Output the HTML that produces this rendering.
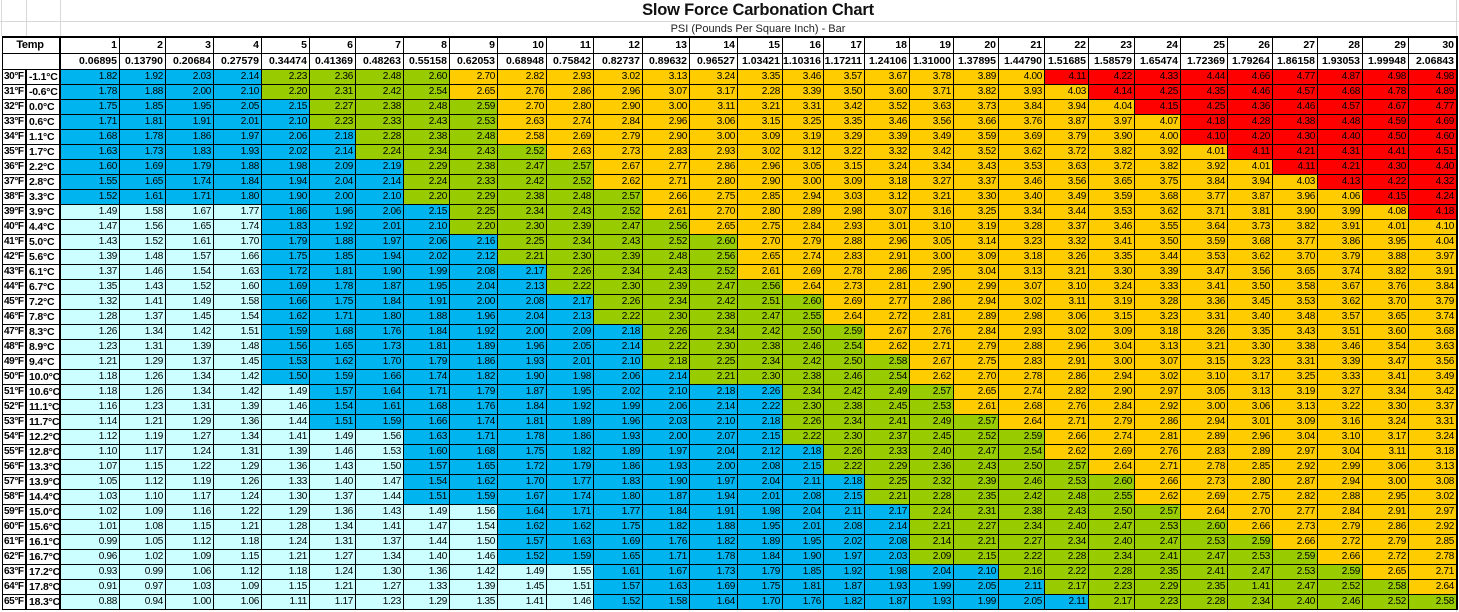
<!DOCTYPE html>
<html><head><meta charset="utf-8"><style>
body{margin:0;width:1459px;height:612px;background:#fff;position:relative;overflow:hidden;font-family:"Liberation Sans",Arial,sans-serif}
.h1{position:absolute;left:0;width:1516px;top:1px;text-align:center;font-weight:bold;font-size:16.5px;letter-spacing:-0.2px;color:#111}
.h2{position:absolute;left:0;width:1516px;top:23px;text-align:center;font-size:11px;color:#222}
.gl{position:absolute;background:#d8d8d8}
.g{position:absolute;left:2px;top:36px;display:grid;grid-template-columns:24px 34px 59px 46px 48px 48px 48px 46px 48px 46px 48px 49px 47px 49px 47px 48px 45px 41px 41px 45px 44px 45px 46px 44px 46px 46px 47px 45px 45px 45px 46px 48px;grid-template-rows:16px 16px repeat(36,15px);border-top:2px solid #000;border-left:1px solid #000;border-right:1px solid #000}
.g i{font-style:normal;box-sizing:border-box;border-right:1px solid #000;border-bottom:1px solid #000;text-align:right;padding-right:2px;font-size:10px;line-height:14px;letter-spacing:-0.3px;white-space:nowrap;overflow:hidden;color:#000}
.g i.hd{font-weight:bold;font-size:10.5px;background:#fff;line-height:15px;letter-spacing:0}
.g i.tp{grid-column:span 2;text-align:center;font-weight:bold;font-size:11px;border-right:2px solid #000;line-height:15px}
.g i.ep{grid-column:span 2;border-right:2px solid #000;border-bottom:1px solid #000;background:#fff}
.g i.f{text-align:left;padding:0 0 0 1px;font-weight:bold;background:#fff;font-size:10px;letter-spacing:-0.4px;border-right:2px solid #000}
.g i.c{text-align:left;padding:0 0 0 2px;font-weight:bold;background:#fff;font-size:10.5px;letter-spacing:-0.2px;border-right:2px solid #000}
.g i.a{background:#ccffff}.g i.b{background:#00b4f0}.g i.d{background:#99cc00}.g i.o{background:#ffcc00}.g i.e{background:#ff0000}
</style></head><body>
<div class="gl" style="left:0;top:21px;width:1459px;height:1px"></div>
<div class="gl" style="left:1px;top:0;width:1px;height:36px"></div>
<div class="gl" style="left:26px;top:0;width:1px;height:36px"></div>
<div class="gl" style="left:60px;top:0;width:1px;height:36px"></div>
<div class="gl" style="left:1456px;top:0;width:1px;height:612px"></div>
<div class="h1">Slow Force Carbonation Chart</div>
<div class="h2">PSI (Pounds Per Square Inch) - Bar</div>
<div class="g">
<i class="tp">Temp</i><i class="hd">1</i><i class="hd">2</i><i class="hd">3</i><i class="hd">4</i><i class="hd">5</i><i class="hd">6</i><i class="hd">7</i><i class="hd">8</i><i class="hd">9</i><i class="hd">10</i><i class="hd">11</i><i class="hd">12</i><i class="hd">13</i><i class="hd">14</i><i class="hd">15</i><i class="hd">16</i><i class="hd">17</i><i class="hd">18</i><i class="hd">19</i><i class="hd">20</i><i class="hd">21</i><i class="hd">22</i><i class="hd">23</i><i class="hd">24</i><i class="hd">25</i><i class="hd">26</i><i class="hd">27</i><i class="hd">28</i><i class="hd">29</i><i class="hd">30</i>
<i class="ep"></i><i class="hd">0.06895</i><i class="hd">0.13790</i><i class="hd">0.20684</i><i class="hd">0.27579</i><i class="hd">0.34474</i><i class="hd">0.41369</i><i class="hd">0.48263</i><i class="hd">0.55158</i><i class="hd">0.62053</i><i class="hd">0.68948</i><i class="hd">0.75842</i><i class="hd">0.82737</i><i class="hd">0.89632</i><i class="hd">0.96527</i><i class="hd">1.03421</i><i class="hd">1.10316</i><i class="hd">1.17211</i><i class="hd">1.24106</i><i class="hd">1.31000</i><i class="hd">1.37895</i><i class="hd">1.44790</i><i class="hd">1.51685</i><i class="hd">1.58579</i><i class="hd">1.65474</i><i class="hd">1.72369</i><i class="hd">1.79264</i><i class="hd">1.86158</i><i class="hd">1.93053</i><i class="hd">1.99948</i><i class="hd">2.06843</i>
<i class="f">30°F</i><i class="c">-1.1°C</i><i class="b">1.82</i><i class="b">1.92</i><i class="b">2.03</i><i class="b">2.14</i><i class="d">2.23</i><i class="d">2.36</i><i class="d">2.48</i><i class="d">2.60</i><i class="o">2.70</i><i class="o">2.82</i><i class="o">2.93</i><i class="o">3.02</i><i class="o">3.13</i><i class="o">3.24</i><i class="o">3.35</i><i class="o">3.46</i><i class="o">3.57</i><i class="o">3.67</i><i class="o">3.78</i><i class="o">3.89</i><i class="o">4.00</i><i class="e">4.11</i><i class="e">4.22</i><i class="e">4.33</i><i class="e">4.44</i><i class="e">4.66</i><i class="e">4.77</i><i class="e">4.87</i><i class="e">4.98</i><i class="e">4.98</i>
<i class="f">31°F</i><i class="c">-0.6°C</i><i class="b">1.78</i><i class="b">1.88</i><i class="b">2.00</i><i class="b">2.10</i><i class="d">2.20</i><i class="d">2.31</i><i class="d">2.42</i><i class="d">2.54</i><i class="o">2.65</i><i class="o">2.76</i><i class="o">2.86</i><i class="o">2.96</i><i class="o">3.07</i><i class="o">3.17</i><i class="o">2.28</i><i class="o">3.39</i><i class="o">3.50</i><i class="o">3.60</i><i class="o">3.71</i><i class="o">3.82</i><i class="o">3.93</i><i class="o">4.03</i><i class="e">4.14</i><i class="e">4.25</i><i class="e">4.35</i><i class="e">4.46</i><i class="e">4.57</i><i class="e">4.68</i><i class="e">4.78</i><i class="e">4.89</i>
<i class="f">32°F</i><i class="c">0.0°C</i><i class="b">1.75</i><i class="b">1.85</i><i class="b">1.95</i><i class="b">2.05</i><i class="b">2.15</i><i class="d">2.27</i><i class="d">2.38</i><i class="d">2.48</i><i class="d">2.59</i><i class="o">2.70</i><i class="o">2.80</i><i class="o">2.90</i><i class="o">3.00</i><i class="o">3.11</i><i class="o">3.21</i><i class="o">3.31</i><i class="o">3.42</i><i class="o">3.52</i><i class="o">3.63</i><i class="o">3.73</i><i class="o">3.84</i><i class="o">3.94</i><i class="o">4.04</i><i class="e">4.15</i><i class="e">4.25</i><i class="e">4.36</i><i class="e">4.46</i><i class="e">4.57</i><i class="e">4.67</i><i class="e">4.77</i>
<i class="f">33°F</i><i class="c">0.6°C</i><i class="b">1.71</i><i class="b">1.81</i><i class="b">1.91</i><i class="b">2.01</i><i class="b">2.10</i><i class="d">2.23</i><i class="d">2.33</i><i class="d">2.43</i><i class="d">2.53</i><i class="o">2.63</i><i class="o">2.74</i><i class="o">2.84</i><i class="o">2.96</i><i class="o">3.06</i><i class="o">3.15</i><i class="o">3.25</i><i class="o">3.35</i><i class="o">3.46</i><i class="o">3.56</i><i class="o">3.66</i><i class="o">3.76</i><i class="o">3.87</i><i class="o">3.97</i><i class="o">4.07</i><i class="e">4.18</i><i class="e">4.28</i><i class="e">4.38</i><i class="e">4.48</i><i class="e">4.59</i><i class="e">4.69</i>
<i class="f">34°F</i><i class="c">1.1°C</i><i class="b">1.68</i><i class="b">1.78</i><i class="b">1.86</i><i class="b">1.97</i><i class="b">2.06</i><i class="b">2.18</i><i class="d">2.28</i><i class="d">2.38</i><i class="d">2.48</i><i class="o">2.58</i><i class="o">2.69</i><i class="o">2.79</i><i class="o">2.90</i><i class="o">3.00</i><i class="o">3.09</i><i class="o">3.19</i><i class="o">3.29</i><i class="o">3.39</i><i class="o">3.49</i><i class="o">3.59</i><i class="o">3.69</i><i class="o">3.79</i><i class="o">3.90</i><i class="o">4.00</i><i class="e">4.10</i><i class="e">4.20</i><i class="e">4.30</i><i class="e">4.40</i><i class="e">4.50</i><i class="e">4.60</i>
<i class="f">35°F</i><i class="c">1.7°C</i><i class="b">1.63</i><i class="b">1.73</i><i class="b">1.83</i><i class="b">1.93</i><i class="b">2.02</i><i class="b">2.14</i><i class="d">2.24</i><i class="d">2.34</i><i class="d">2.43</i><i class="d">2.52</i><i class="o">2.63</i><i class="o">2.73</i><i class="o">2.83</i><i class="o">2.93</i><i class="o">3.02</i><i class="o">3.12</i><i class="o">3.22</i><i class="o">3.32</i><i class="o">3.42</i><i class="o">3.52</i><i class="o">3.62</i><i class="o">3.72</i><i class="o">3.82</i><i class="o">3.92</i><i class="o">4.01</i><i class="e">4.11</i><i class="e">4.21</i><i class="e">4.31</i><i class="e">4.41</i><i class="e">4.51</i>
<i class="f">36°F</i><i class="c">2.2°C</i><i class="b">1.60</i><i class="b">1.69</i><i class="b">1.79</i><i class="b">1.88</i><i class="b">1.98</i><i class="b">2.09</i><i class="b">2.19</i><i class="d">2.29</i><i class="d">2.38</i><i class="d">2.47</i><i class="d">2.57</i><i class="o">2.67</i><i class="o">2.77</i><i class="o">2.86</i><i class="o">2.96</i><i class="o">3.05</i><i class="o">3.15</i><i class="o">3.24</i><i class="o">3.34</i><i class="o">3.43</i><i class="o">3.53</i><i class="o">3.63</i><i class="o">3.72</i><i class="o">3.82</i><i class="o">3.92</i><i class="o">4.01</i><i class="e">4.11</i><i class="e">4.21</i><i class="e">4.30</i><i class="e">4.40</i>
<i class="f">37°F</i><i class="c">2.8°C</i><i class="b">1.55</i><i class="b">1.65</i><i class="b">1.74</i><i class="b">1.84</i><i class="b">1.94</i><i class="b">2.04</i><i class="b">2.14</i><i class="d">2.24</i><i class="d">2.33</i><i class="d">2.42</i><i class="d">2.52</i><i class="o">2.62</i><i class="o">2.71</i><i class="o">2.80</i><i class="o">2.90</i><i class="o">3.00</i><i class="o">3.09</i><i class="o">3.18</i><i class="o">3.27</i><i class="o">3.37</i><i class="o">3.46</i><i class="o">3.56</i><i class="o">3.65</i><i class="o">3.75</i><i class="o">3.84</i><i class="o">3.94</i><i class="o">4.03</i><i class="e">4.13</i><i class="e">4.22</i><i class="e">4.32</i>
<i class="f">38°F</i><i class="c">3.3°C</i><i class="b">1.52</i><i class="b">1.61</i><i class="b">1.71</i><i class="b">1.80</i><i class="b">1.90</i><i class="b">2.00</i><i class="b">2.10</i><i class="d">2.20</i><i class="d">2.29</i><i class="d">2.38</i><i class="d">2.48</i><i class="d">2.57</i><i class="o">2.66</i><i class="o">2.75</i><i class="o">2.85</i><i class="o">2.94</i><i class="o">3.03</i><i class="o">3.12</i><i class="o">3.21</i><i class="o">3.30</i><i class="o">3.40</i><i class="o">3.49</i><i class="o">3.59</i><i class="o">3.68</i><i class="o">3.77</i><i class="o">3.87</i><i class="o">3.96</i><i class="o">4.06</i><i class="e">4.15</i><i class="e">4.24</i>
<i class="f">39°F</i><i class="c">3.9°C</i><i class="a">1.49</i><i class="a">1.58</i><i class="a">1.67</i><i class="a">1.77</i><i class="b">1.86</i><i class="b">1.96</i><i class="b">2.06</i><i class="b">2.15</i><i class="d">2.25</i><i class="d">2.34</i><i class="d">2.43</i><i class="d">2.52</i><i class="o">2.61</i><i class="o">2.70</i><i class="o">2.80</i><i class="o">2.89</i><i class="o">2.98</i><i class="o">3.07</i><i class="o">3.16</i><i class="o">3.25</i><i class="o">3.34</i><i class="o">3.44</i><i class="o">3.53</i><i class="o">3.62</i><i class="o">3.71</i><i class="o">3.81</i><i class="o">3.90</i><i class="o">3.99</i><i class="o">4.08</i><i class="e">4.18</i>
<i class="f">40°F</i><i class="c">4.4°C</i><i class="a">1.47</i><i class="a">1.56</i><i class="a">1.65</i><i class="a">1.74</i><i class="b">1.83</i><i class="b">1.92</i><i class="b">2.01</i><i class="b">2.10</i><i class="d">2.20</i><i class="d">2.30</i><i class="d">2.39</i><i class="d">2.47</i><i class="d">2.56</i><i class="o">2.65</i><i class="o">2.75</i><i class="o">2.84</i><i class="o">2.93</i><i class="o">3.01</i><i class="o">3.10</i><i class="o">3.19</i><i class="o">3.28</i><i class="o">3.37</i><i class="o">3.46</i><i class="o">3.55</i><i class="o">3.64</i><i class="o">3.73</i><i class="o">3.82</i><i class="o">3.91</i><i class="o">4.01</i><i class="o">4.10</i>
<i class="f">41°F</i><i class="c">5.0°C</i><i class="a">1.43</i><i class="a">1.52</i><i class="a">1.61</i><i class="a">1.70</i><i class="b">1.79</i><i class="b">1.88</i><i class="b">1.97</i><i class="b">2.06</i><i class="b">2.16</i><i class="d">2.25</i><i class="d">2.34</i><i class="d">2.43</i><i class="d">2.52</i><i class="d">2.60</i><i class="o">2.70</i><i class="o">2.79</i><i class="o">2.88</i><i class="o">2.96</i><i class="o">3.05</i><i class="o">3.14</i><i class="o">3.23</i><i class="o">3.32</i><i class="o">3.41</i><i class="o">3.50</i><i class="o">3.59</i><i class="o">3.68</i><i class="o">3.77</i><i class="o">3.86</i><i class="o">3.95</i><i class="o">4.04</i>
<i class="f">42°F</i><i class="c">5.6°C</i><i class="a">1.39</i><i class="a">1.48</i><i class="a">1.57</i><i class="a">1.66</i><i class="b">1.75</i><i class="b">1.85</i><i class="b">1.94</i><i class="b">2.02</i><i class="b">2.12</i><i class="d">2.21</i><i class="d">2.30</i><i class="d">2.39</i><i class="d">2.48</i><i class="d">2.56</i><i class="o">2.65</i><i class="o">2.74</i><i class="o">2.83</i><i class="o">2.91</i><i class="o">3.00</i><i class="o">3.09</i><i class="o">3.18</i><i class="o">3.26</i><i class="o">3.35</i><i class="o">3.44</i><i class="o">3.53</i><i class="o">3.62</i><i class="o">3.70</i><i class="o">3.79</i><i class="o">3.88</i><i class="o">3.97</i>
<i class="f">43°F</i><i class="c">6.1°C</i><i class="a">1.37</i><i class="a">1.46</i><i class="a">1.54</i><i class="a">1.63</i><i class="b">1.72</i><i class="b">1.81</i><i class="b">1.90</i><i class="b">1.99</i><i class="b">2.08</i><i class="b">2.17</i><i class="d">2.26</i><i class="d">2.34</i><i class="d">2.43</i><i class="d">2.52</i><i class="o">2.61</i><i class="o">2.69</i><i class="o">2.78</i><i class="o">2.86</i><i class="o">2.95</i><i class="o">3.04</i><i class="o">3.13</i><i class="o">3.21</i><i class="o">3.30</i><i class="o">3.39</i><i class="o">3.47</i><i class="o">3.56</i><i class="o">3.65</i><i class="o">3.74</i><i class="o">3.82</i><i class="o">3.91</i>
<i class="f">44°F</i><i class="c">6.7°C</i><i class="a">1.35</i><i class="a">1.43</i><i class="a">1.52</i><i class="a">1.60</i><i class="b">1.69</i><i class="b">1.78</i><i class="b">1.87</i><i class="b">1.95</i><i class="b">2.04</i><i class="b">2.13</i><i class="d">2.22</i><i class="d">2.30</i><i class="d">2.39</i><i class="d">2.47</i><i class="d">2.56</i><i class="o">2.64</i><i class="o">2.73</i><i class="o">2.81</i><i class="o">2.90</i><i class="o">2.99</i><i class="o">3.07</i><i class="o">3.10</i><i class="o">3.24</i><i class="o">3.33</i><i class="o">3.41</i><i class="o">3.50</i><i class="o">3.58</i><i class="o">3.67</i><i class="o">3.76</i><i class="o">3.84</i>
<i class="f">45°F</i><i class="c">7.2°C</i><i class="a">1.32</i><i class="a">1.41</i><i class="a">1.49</i><i class="a">1.58</i><i class="b">1.66</i><i class="b">1.75</i><i class="b">1.84</i><i class="b">1.91</i><i class="b">2.00</i><i class="b">2.08</i><i class="b">2.17</i><i class="d">2.26</i><i class="d">2.34</i><i class="d">2.42</i><i class="d">2.51</i><i class="d">2.60</i><i class="o">2.69</i><i class="o">2.77</i><i class="o">2.86</i><i class="o">2.94</i><i class="o">3.02</i><i class="o">3.11</i><i class="o">3.19</i><i class="o">3.28</i><i class="o">3.36</i><i class="o">3.45</i><i class="o">3.53</i><i class="o">3.62</i><i class="o">3.70</i><i class="o">3.79</i>
<i class="f">46°F</i><i class="c">7.8°C</i><i class="a">1.28</i><i class="a">1.37</i><i class="a">1.45</i><i class="a">1.54</i><i class="b">1.62</i><i class="b">1.71</i><i class="b">1.80</i><i class="b">1.88</i><i class="b">1.96</i><i class="b">2.04</i><i class="b">2.13</i><i class="d">2.22</i><i class="d">2.30</i><i class="d">2.38</i><i class="d">2.47</i><i class="d">2.55</i><i class="o">2.64</i><i class="o">2.72</i><i class="o">2.81</i><i class="o">2.89</i><i class="o">2.98</i><i class="o">3.06</i><i class="o">3.15</i><i class="o">3.23</i><i class="o">3.31</i><i class="o">3.40</i><i class="o">3.48</i><i class="o">3.57</i><i class="o">3.65</i><i class="o">3.74</i>
<i class="f">47°F</i><i class="c">8.3°C</i><i class="a">1.26</i><i class="a">1.34</i><i class="a">1.42</i><i class="a">1.51</i><i class="b">1.59</i><i class="b">1.68</i><i class="b">1.76</i><i class="b">1.84</i><i class="b">1.92</i><i class="b">2.00</i><i class="b">2.09</i><i class="b">2.18</i><i class="d">2.26</i><i class="d">2.34</i><i class="d">2.42</i><i class="d">2.50</i><i class="d">2.59</i><i class="o">2.67</i><i class="o">2.76</i><i class="o">2.84</i><i class="o">2.93</i><i class="o">3.02</i><i class="o">3.09</i><i class="o">3.18</i><i class="o">3.26</i><i class="o">3.35</i><i class="o">3.43</i><i class="o">3.51</i><i class="o">3.60</i><i class="o">3.68</i>
<i class="f">48°F</i><i class="c">8.9°C</i><i class="a">1.23</i><i class="a">1.31</i><i class="a">1.39</i><i class="a">1.48</i><i class="b">1.56</i><i class="b">1.65</i><i class="b">1.73</i><i class="b">1.81</i><i class="b">1.89</i><i class="b">1.96</i><i class="b">2.05</i><i class="b">2.14</i><i class="d">2.22</i><i class="d">2.30</i><i class="d">2.38</i><i class="d">2.46</i><i class="d">2.54</i><i class="o">2.62</i><i class="o">2.71</i><i class="o">2.79</i><i class="o">2.88</i><i class="o">2.96</i><i class="o">3.04</i><i class="o">3.13</i><i class="o">3.21</i><i class="o">3.30</i><i class="o">3.38</i><i class="o">3.46</i><i class="o">3.54</i><i class="o">3.63</i>
<i class="f">49°F</i><i class="c">9.4°C</i><i class="a">1.21</i><i class="a">1.29</i><i class="a">1.37</i><i class="a">1.45</i><i class="b">1.53</i><i class="b">1.62</i><i class="b">1.70</i><i class="b">1.79</i><i class="b">1.86</i><i class="b">1.93</i><i class="b">2.01</i><i class="b">2.10</i><i class="d">2.18</i><i class="d">2.25</i><i class="d">2.34</i><i class="d">2.42</i><i class="d">2.50</i><i class="d">2.58</i><i class="o">2.67</i><i class="o">2.75</i><i class="o">2.83</i><i class="o">2.91</i><i class="o">3.00</i><i class="o">3.07</i><i class="o">3.15</i><i class="o">3.23</i><i class="o">3.31</i><i class="o">3.39</i><i class="o">3.47</i><i class="o">3.56</i>
<i class="f">50°F</i><i class="c">10.0°C</i><i class="a">1.18</i><i class="a">1.26</i><i class="a">1.34</i><i class="a">1.42</i><i class="b">1.50</i><i class="b">1.59</i><i class="b">1.66</i><i class="b">1.74</i><i class="b">1.82</i><i class="b">1.90</i><i class="b">1.98</i><i class="b">2.06</i><i class="b">2.14</i><i class="d">2.21</i><i class="d">2.30</i><i class="d">2.38</i><i class="d">2.46</i><i class="d">2.54</i><i class="o">2.62</i><i class="o">2.70</i><i class="o">2.78</i><i class="o">2.86</i><i class="o">2.94</i><i class="o">3.02</i><i class="o">3.10</i><i class="o">3.17</i><i class="o">3.25</i><i class="o">3.33</i><i class="o">3.41</i><i class="o">3.49</i>
<i class="f">51°F</i><i class="c">10.6°C</i><i class="a">1.18</i><i class="a">1.26</i><i class="a">1.34</i><i class="a">1.42</i><i class="a">1.49</i><i class="b">1.57</i><i class="b">1.64</i><i class="b">1.71</i><i class="b">1.79</i><i class="b">1.87</i><i class="b">1.95</i><i class="b">2.02</i><i class="b">2.10</i><i class="b">2.18</i><i class="b">2.26</i><i class="d">2.34</i><i class="d">2.42</i><i class="d">2.49</i><i class="d">2.57</i><i class="o">2.65</i><i class="o">2.74</i><i class="o">2.82</i><i class="o">2.90</i><i class="o">2.97</i><i class="o">3.05</i><i class="o">3.13</i><i class="o">3.19</i><i class="o">3.27</i><i class="o">3.34</i><i class="o">3.42</i>
<i class="f">52°F</i><i class="c">11.1°C</i><i class="a">1.16</i><i class="a">1.23</i><i class="a">1.31</i><i class="a">1.39</i><i class="a">1.46</i><i class="b">1.54</i><i class="b">1.61</i><i class="b">1.68</i><i class="b">1.76</i><i class="b">1.84</i><i class="b">1.92</i><i class="b">1.99</i><i class="b">2.06</i><i class="b">2.14</i><i class="b">2.22</i><i class="d">2.30</i><i class="d">2.38</i><i class="d">2.45</i><i class="d">2.53</i><i class="o">2.61</i><i class="o">2.68</i><i class="o">2.76</i><i class="o">2.84</i><i class="o">2.92</i><i class="o">3.00</i><i class="o">3.06</i><i class="o">3.13</i><i class="o">3.22</i><i class="o">3.30</i><i class="o">3.37</i>
<i class="f">53°F</i><i class="c">11.7°C</i><i class="a">1.14</i><i class="a">1.21</i><i class="a">1.29</i><i class="a">1.36</i><i class="a">1.44</i><i class="b">1.51</i><i class="b">1.59</i><i class="b">1.66</i><i class="b">1.74</i><i class="b">1.81</i><i class="b">1.89</i><i class="b">1.96</i><i class="b">2.03</i><i class="b">2.10</i><i class="b">2.18</i><i class="d">2.26</i><i class="d">2.34</i><i class="d">2.41</i><i class="d">2.49</i><i class="d">2.57</i><i class="o">2.64</i><i class="o">2.71</i><i class="o">2.79</i><i class="o">2.86</i><i class="o">2.94</i><i class="o">3.01</i><i class="o">3.09</i><i class="o">3.16</i><i class="o">3.24</i><i class="o">3.31</i>
<i class="f">54°F</i><i class="c">12.2°C</i><i class="a">1.12</i><i class="a">1.19</i><i class="a">1.27</i><i class="a">1.34</i><i class="a">1.41</i><i class="a">1.49</i><i class="a">1.56</i><i class="b">1.63</i><i class="b">1.71</i><i class="b">1.78</i><i class="b">1.86</i><i class="b">1.93</i><i class="b">2.00</i><i class="b">2.07</i><i class="b">2.15</i><i class="d">2.22</i><i class="d">2.30</i><i class="d">2.37</i><i class="d">2.45</i><i class="d">2.52</i><i class="d">2.59</i><i class="o">2.66</i><i class="o">2.74</i><i class="o">2.81</i><i class="o">2.89</i><i class="o">2.96</i><i class="o">3.04</i><i class="o">3.10</i><i class="o">3.17</i><i class="o">3.24</i>
<i class="f">55°F</i><i class="c">12.8°C</i><i class="a">1.10</i><i class="a">1.17</i><i class="a">1.24</i><i class="a">1.31</i><i class="a">1.39</i><i class="a">1.46</i><i class="a">1.53</i><i class="b">1.60</i><i class="b">1.68</i><i class="b">1.75</i><i class="b">1.82</i><i class="b">1.89</i><i class="b">1.97</i><i class="b">2.04</i><i class="b">2.12</i><i class="b">2.18</i><i class="d">2.26</i><i class="d">2.33</i><i class="d">2.40</i><i class="d">2.47</i><i class="d">2.54</i><i class="o">2.62</i><i class="o">2.69</i><i class="o">2.76</i><i class="o">2.83</i><i class="o">2.89</i><i class="o">2.97</i><i class="o">3.04</i><i class="o">3.11</i><i class="o">3.18</i>
<i class="f">56°F</i><i class="c">13.3°C</i><i class="a">1.07</i><i class="a">1.15</i><i class="a">1.22</i><i class="a">1.29</i><i class="a">1.36</i><i class="a">1.43</i><i class="a">1.50</i><i class="b">1.57</i><i class="b">1.65</i><i class="b">1.72</i><i class="b">1.79</i><i class="b">1.86</i><i class="b">1.93</i><i class="b">2.00</i><i class="b">2.08</i><i class="b">2.15</i><i class="d">2.22</i><i class="d">2.29</i><i class="d">2.36</i><i class="d">2.43</i><i class="d">2.50</i><i class="d">2.57</i><i class="o">2.64</i><i class="o">2.71</i><i class="o">2.78</i><i class="o">2.85</i><i class="o">2.92</i><i class="o">2.99</i><i class="o">3.06</i><i class="o">3.13</i>
<i class="f">57°F</i><i class="c">13.9°C</i><i class="a">1.05</i><i class="a">1.12</i><i class="a">1.19</i><i class="a">1.26</i><i class="a">1.33</i><i class="a">1.40</i><i class="a">1.47</i><i class="b">1.54</i><i class="b">1.62</i><i class="b">1.70</i><i class="b">1.77</i><i class="b">1.83</i><i class="b">1.90</i><i class="b">1.97</i><i class="b">2.04</i><i class="b">2.11</i><i class="b">2.18</i><i class="d">2.25</i><i class="d">2.32</i><i class="d">2.39</i><i class="d">2.46</i><i class="d">2.53</i><i class="d">2.60</i><i class="o">2.66</i><i class="o">2.73</i><i class="o">2.80</i><i class="o">2.87</i><i class="o">2.94</i><i class="o">3.00</i><i class="o">3.08</i>
<i class="f">58°F</i><i class="c">14.4°C</i><i class="a">1.03</i><i class="a">1.10</i><i class="a">1.17</i><i class="a">1.24</i><i class="a">1.30</i><i class="a">1.37</i><i class="a">1.44</i><i class="b">1.51</i><i class="b">1.59</i><i class="b">1.67</i><i class="b">1.74</i><i class="b">1.80</i><i class="b">1.87</i><i class="b">1.94</i><i class="b">2.01</i><i class="b">2.08</i><i class="b">2.15</i><i class="d">2.21</i><i class="d">2.28</i><i class="d">2.35</i><i class="d">2.42</i><i class="d">2.48</i><i class="d">2.55</i><i class="o">2.62</i><i class="o">2.69</i><i class="o">2.75</i><i class="o">2.82</i><i class="o">2.88</i><i class="o">2.95</i><i class="o">3.02</i>
<i class="f">59°F</i><i class="c">15.0°C</i><i class="a">1.02</i><i class="a">1.09</i><i class="a">1.16</i><i class="a">1.22</i><i class="a">1.29</i><i class="a">1.36</i><i class="a">1.43</i><i class="a">1.49</i><i class="a">1.56</i><i class="b">1.64</i><i class="b">1.71</i><i class="b">1.77</i><i class="b">1.84</i><i class="b">1.91</i><i class="b">1.98</i><i class="b">2.04</i><i class="b">2.11</i><i class="b">2.17</i><i class="d">2.24</i><i class="d">2.31</i><i class="d">2.38</i><i class="d">2.43</i><i class="d">2.50</i><i class="d">2.57</i><i class="o">2.64</i><i class="o">2.70</i><i class="o">2.77</i><i class="o">2.84</i><i class="o">2.91</i><i class="o">2.97</i>
<i class="f">60°F</i><i class="c">15.6°C</i><i class="a">1.01</i><i class="a">1.08</i><i class="a">1.15</i><i class="a">1.21</i><i class="a">1.28</i><i class="a">1.34</i><i class="a">1.41</i><i class="a">1.47</i><i class="a">1.54</i><i class="b">1.62</i><i class="b">1.62</i><i class="b">1.75</i><i class="b">1.82</i><i class="b">1.88</i><i class="b">1.95</i><i class="b">2.01</i><i class="b">2.08</i><i class="b">2.14</i><i class="d">2.21</i><i class="d">2.27</i><i class="d">2.34</i><i class="d">2.40</i><i class="d">2.47</i><i class="d">2.53</i><i class="d">2.60</i><i class="o">2.66</i><i class="o">2.73</i><i class="o">2.79</i><i class="o">2.86</i><i class="o">2.92</i>
<i class="f">61°F</i><i class="c">16.1°C</i><i class="a">0.99</i><i class="a">1.05</i><i class="a">1.12</i><i class="a">1.18</i><i class="a">1.24</i><i class="a">1.31</i><i class="a">1.37</i><i class="a">1.44</i><i class="a">1.50</i><i class="b">1.57</i><i class="b">1.63</i><i class="b">1.69</i><i class="b">1.76</i><i class="b">1.82</i><i class="b">1.89</i><i class="b">1.95</i><i class="b">2.02</i><i class="b">2.08</i><i class="d">2.14</i><i class="d">2.21</i><i class="d">2.27</i><i class="d">2.34</i><i class="d">2.40</i><i class="d">2.47</i><i class="d">2.53</i><i class="d">2.59</i><i class="o">2.66</i><i class="o">2.72</i><i class="o">2.79</i><i class="o">2.85</i>
<i class="f">62°F</i><i class="c">16.7°C</i><i class="a">0.96</i><i class="a">1.02</i><i class="a">1.09</i><i class="a">1.15</i><i class="a">1.21</i><i class="a">1.27</i><i class="a">1.34</i><i class="a">1.40</i><i class="a">1.46</i><i class="b">1.52</i><i class="b">1.59</i><i class="b">1.65</i><i class="b">1.71</i><i class="b">1.78</i><i class="b">1.84</i><i class="b">1.90</i><i class="b">1.97</i><i class="b">2.03</i><i class="d">2.09</i><i class="d">2.15</i><i class="d">2.22</i><i class="d">2.28</i><i class="d">2.34</i><i class="d">2.41</i><i class="d">2.47</i><i class="d">2.53</i><i class="d">2.59</i><i class="o">2.66</i><i class="o">2.72</i><i class="o">2.78</i>
<i class="f">63°F</i><i class="c">17.2°C</i><i class="a">0.93</i><i class="a">0.99</i><i class="a">1.06</i><i class="a">1.12</i><i class="a">1.18</i><i class="a">1.24</i><i class="a">1.30</i><i class="a">1.36</i><i class="a">1.42</i><i class="a">1.49</i><i class="a">1.55</i><i class="b">1.61</i><i class="b">1.67</i><i class="b">1.73</i><i class="b">1.79</i><i class="b">1.85</i><i class="b">1.92</i><i class="b">1.98</i><i class="b">2.04</i><i class="b">2.10</i><i class="d">2.16</i><i class="d">2.22</i><i class="d">2.28</i><i class="d">2.35</i><i class="d">2.41</i><i class="d">2.47</i><i class="d">2.53</i><i class="d">2.59</i><i class="o">2.65</i><i class="o">2.71</i>
<i class="f">64°F</i><i class="c">17.8°C</i><i class="a">0.91</i><i class="a">0.97</i><i class="a">1.03</i><i class="a">1.09</i><i class="a">1.15</i><i class="a">1.21</i><i class="a">1.27</i><i class="a">1.33</i><i class="a">1.39</i><i class="a">1.45</i><i class="a">1.51</i><i class="b">1.57</i><i class="b">1.63</i><i class="b">1.69</i><i class="b">1.75</i><i class="b">1.81</i><i class="b">1.87</i><i class="b">1.93</i><i class="b">1.99</i><i class="b">2.05</i><i class="b">2.11</i><i class="d">2.17</i><i class="d">2.23</i><i class="d">2.29</i><i class="d">2.35</i><i class="d">1.41</i><i class="d">2.47</i><i class="d">2.52</i><i class="d">2.58</i><i class="o">2.64</i>
<i class="f">65°F</i><i class="c">18.3°C</i><i class="a">0.88</i><i class="a">0.94</i><i class="a">1.00</i><i class="a">1.06</i><i class="a">1.11</i><i class="a">1.17</i><i class="a">1.23</i><i class="a">1.29</i><i class="a">1.35</i><i class="a">1.41</i><i class="a">1.46</i><i class="b">1.52</i><i class="b">1.58</i><i class="b">1.64</i><i class="b">1.70</i><i class="b">1.76</i><i class="b">1.82</i><i class="b">1.87</i><i class="b">1.93</i><i class="b">1.99</i><i class="b">2.05</i><i class="b">2.11</i><i class="d">2.17</i><i class="d">2.23</i><i class="d">2.28</i><i class="d">2.34</i><i class="d">2.40</i><i class="d">2.46</i><i class="d">2.52</i><i class="d">2.58</i>
</div>
</body></html>
